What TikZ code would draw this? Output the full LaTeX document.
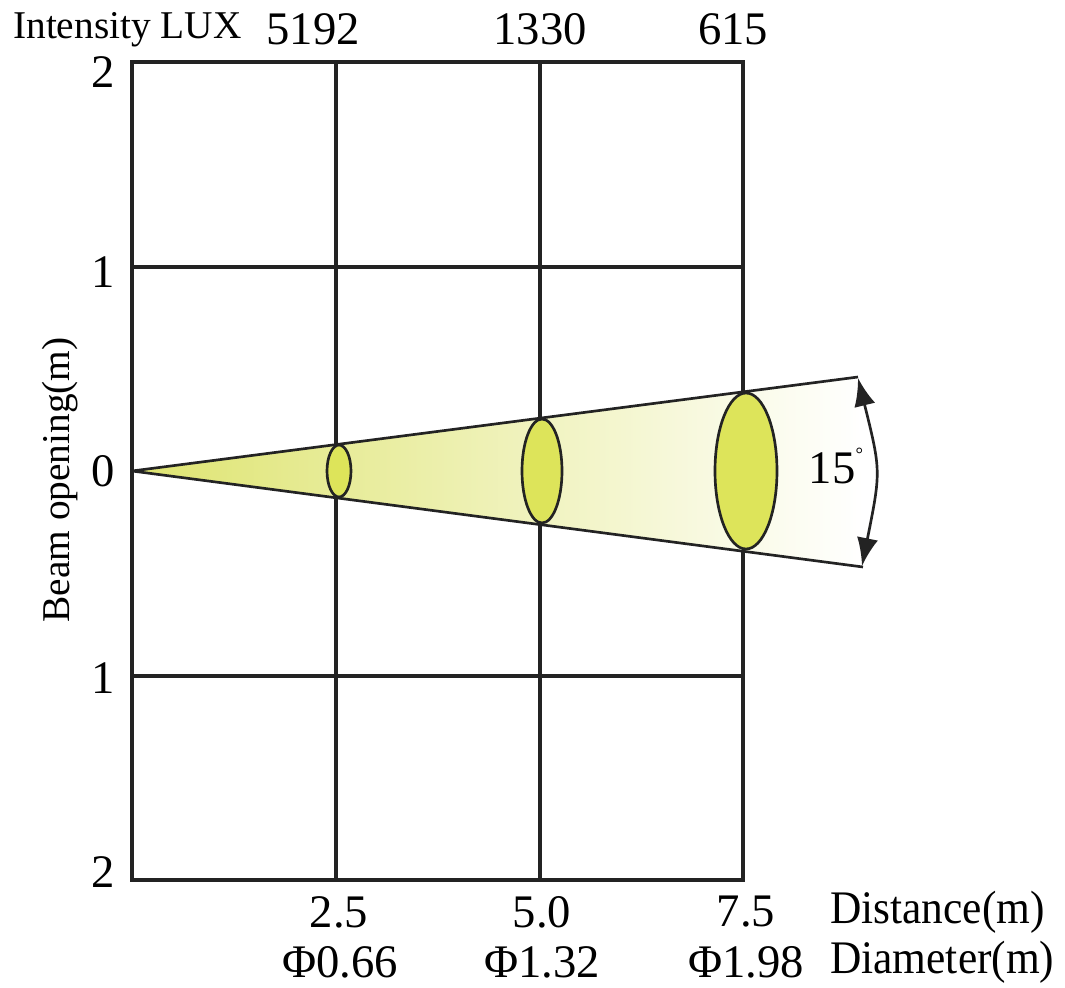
\documentclass[tikz,border=0pt]{standalone}
\usepackage{fontspec}
\setmainfont{Liberation Serif}
\newfontfamily\narrowserif[FakeStretch=0.93]{Liberation Serif}
\usetikzlibrary{arrows.meta}
\definecolor{beamyellow}{RGB}{222,228,112}
\definecolor{spotyellow}{RGB}{221,228,90}
\definecolor{inkgrey}{RGB}{35,35,35}
\tikzset{
  gridline/.style={line width=2.3pt, draw=inkgrey},
  beamedge/.style={line width=2pt, draw=inkgrey},
  spot/.style={line width=2pt, draw=inkgrey, fill=spotyellow},
  bigtext/.style={inner sep=0.75pt, font=\fontsize{35}{40}\selectfont},
  axistext/.style={inner sep=0.75pt, font=\narrowserif\fontsize{35}{40}\selectfont},
  smalltext/.style={inner sep=0.75pt, font=\fontsize{29.5}{34}\selectfont}
}
\begin{document}
\begin{tikzpicture}[x=0.75pt,y=0.75pt,yscale=-1,xscale=1]
				\path [use as bounding box] (0,0) rectangle (1065,988);
				
				%Shape: Grid
				\draw [gridline] (132,62) rectangle (743,880) ;
				\draw [gridline] (336,62) -- (336,880) ;
				\draw [gridline] (540,62) -- (540,880) ;
				\draw [gridline] (132,267) -- (743,267) ;
				\draw [gridline] (132,676) -- (743,676) ;
				
				%Shape: Beam
				\shade [left color=beamyellow, right color=white] (132,471) -- (858,377) -- (863,567) -- cycle ;
				\draw [beamedge] (132,471) -- (858,377) ;
				\draw [beamedge] (132,471) -- (863,567) ;
				
				%Shape: Ellipse
				\draw [spot] (339,471) ellipse (12 and 26) ;
				%Shape: Ellipse
				\draw [spot] (542,471) ellipse (20 and 52) ;
				%Shape: Ellipse
				\draw [spot] (746,471) ellipse (31 and 78) ;
				
				%Shape: Arc
				\draw [line width=2pt, draw=inkgrey, {Latex[length=21pt,width=16pt]}-{Latex[length=21pt,width=16pt]}] (858,378) .. controls (881,471) .. (862,566) ;
				
				% Text Node
				\draw (12,30) node (luxtitle) [anchor=west][smalltext] {Intensity LUX};
				% Text Node
				\draw (313,29) node (lux1) [bigtext] {5192};
				% Text Node
				\draw (540,29) node (lux2) [bigtext] {1330};
				% Text Node
				\draw (733,29) node (lux3) [bigtext] {615};
				
				% Text Node
				\draw (116,72) node (ytop) [anchor=east][bigtext] {2};
				% Text Node
				\draw (116,272) node (yup) [anchor=east][bigtext] {1};
				% Text Node
				\draw (116,471) node (yzero) [anchor=east][bigtext] {0};
				% Text Node
				\draw (116,678) node (ydown) [anchor=east][bigtext] {1};
				% Text Node
				\draw (116,872) node (ybottom) [anchor=east][bigtext] {2};
				% Text Node
				\draw (60,480) node (ytitle) [rotate=90][smalltext] {Beam opening(m)};
				
				% Text Node
				\draw (339,912) node (dist1) [bigtext] {2.5};
				% Text Node
				\draw (542,912) node (dist2) [bigtext] {5.0};
				% Text Node
				\draw (746,912) node (dist3) [bigtext] {7.5};
				% Text Node
				\draw (829,912) node (disttitle) [anchor=west][axistext] {Distance(m)};
				% Text Node
				\draw (340,962) node (diam1) [bigtext] {Φ0.66};
				% Text Node
				\draw (542,962) node (diam2) [bigtext] {Φ1.32};
				% Text Node
				\draw (746,962) node (diam3) [bigtext] {Φ1.98};
				% Text Node
				\draw (829,962) node (diamtitle) [anchor=west][axistext] {Diameter(m)};
				
				% Text Node
				\draw (836,466) node (angle) [bigtext] {15\raisebox{0.5em}{\fontsize{14}{14}\selectfont °}};
				
				
			\end{tikzpicture}
\end{document}
